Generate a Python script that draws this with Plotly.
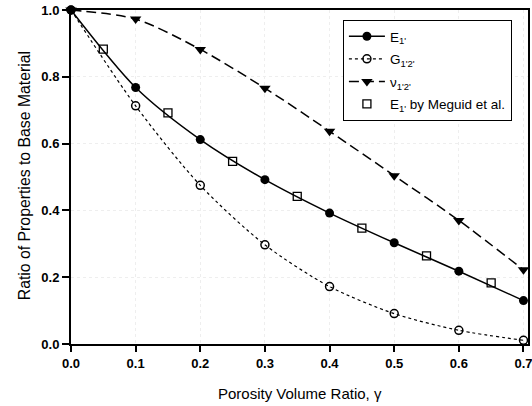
import plotly.graph_objects as go

x_model = [0.0, 0.1, 0.2, 0.3, 0.4, 0.5, 0.6, 0.7]
E1 = [1.0, 0.768, 0.612, 0.492, 0.392, 0.303, 0.218, 0.130]
G12 = [1.0, 0.713, 0.475, 0.297, 0.172, 0.091, 0.041, 0.011]
nu12 = [1.0, 0.973, 0.882, 0.766, 0.637, 0.504, 0.370, 0.222]
x_meguid = [0.05, 0.15, 0.25, 0.35, 0.45, 0.55, 0.65]
E1_meguid = [0.883, 0.692, 0.547, 0.442, 0.347, 0.264, 0.183]

x_ticks = [0.0, 0.1, 0.2, 0.3, 0.4, 0.5, 0.6, 0.7]
y_ticks = [0.0, 0.2, 0.4, 0.6, 0.8, 1.0]

FONT = "Liberation Sans, Arial, sans-serif"

fig = go.Figure()
fig.add_trace(go.Scatter(
    x=x_model, y=E1, mode="lines+markers", name="E<sub>1'</sub>", legendgroup="a",
    line=dict(color="black", width=1.5, shape="spline", smoothing=0.8),
    marker=dict(symbol="circle", size=9, color="black"),
    cliponaxis=False))
fig.add_trace(go.Scatter(
    x=x_model, y=G12, mode="lines+markers", name="G<sub>1'2'</sub>", legendgroup="b",
    line=dict(color="black", width=1.2, dash="dot", shape="spline", smoothing=0.8),
    marker=dict(symbol="circle-open", size=8, color="black", line=dict(width=1.5)),
    cliponaxis=False))
fig.add_trace(go.Scatter(
    x=x_model, y=nu12, mode="lines+markers", name="ν<sub>1'2'</sub>", legendgroup="c",
    line=dict(color="black", width=1.5, dash="10px,5px", shape="spline", smoothing=0.8),
    marker=dict(symbol="triangle-down", size=10, color="black"),
    cliponaxis=False))
fig.add_trace(go.Scatter(
    x=x_meguid, y=E1_meguid, mode="markers", name="E<sub>1'</sub> by Meguid et al.",
    legendgroup="d",
    marker=dict(symbol="square-open", size=8, color="black", line=dict(width=1.3)),
    cliponaxis=False))

fig.update_layout(
    width=532, height=406,
    margin=dict(l=71, r=4, t=10, b=62, autoexpand=False),
    paper_bgcolor="white", plot_bgcolor="white",
    font=dict(family=FONT, color="black", size=12),
    showlegend=True,
    legend=dict(
        x=0.595, y=0.97, xanchor="left", yanchor="top",
        bordercolor="black", borderwidth=1, bgcolor="white",
        font=dict(family=FONT, size=13.5, color="black"),
        tracegroupgap=2, itemwidth=36,
    ),
    xaxis=dict(
        range=[0, 0.707], tickvals=x_ticks, tickformat=".1f", automargin=False,
        ticklabeloverflow="allow",
        showline=True, linecolor="black", linewidth=2, mirror=True,
        ticks="outside", ticklen=6, tickwidth=1.5, tickcolor="black",
        showgrid=True, gridcolor="#eeeeee", griddash="dot", gridwidth=1,
        zeroline=False,
        tickfont=dict(family=FONT, size=13, color="black", weight="bold"),
    ),
    yaxis=dict(
        range=[0, 1.0], tickvals=y_ticks, tickformat=".1f", automargin=False,
        ticklabeloverflow="allow",
        showline=True, linecolor="black", linewidth=2, mirror=True,
        ticks="outside", ticklen=7, tickwidth=1.5, tickcolor="black",
        showgrid=True, gridcolor="#eeeeee", griddash="dot", gridwidth=1,
        zeroline=False,
        tickfont=dict(family=FONT, size=13, color="black", weight="bold"),
    ),
    annotations=[
        dict(text="Porosity Volume Ratio, γ", xref="paper", yref="paper",
             x=0.5, y=-0.147, xanchor="center", yanchor="middle", showarrow=False,
             font=dict(family=FONT, size=15, color="black")),
        dict(text="Ratio of Properties to Base Material", xref="paper", yref="paper",
             x=-0.103, y=0.505, xanchor="center", yanchor="middle", showarrow=False,
             textangle=-90, font=dict(family=FONT, size=15.8, color="black")),
    ],
)

fig.write_html("out.html", config={"displayModeBar": False},
               post_script="document.body.style.margin='0';")
